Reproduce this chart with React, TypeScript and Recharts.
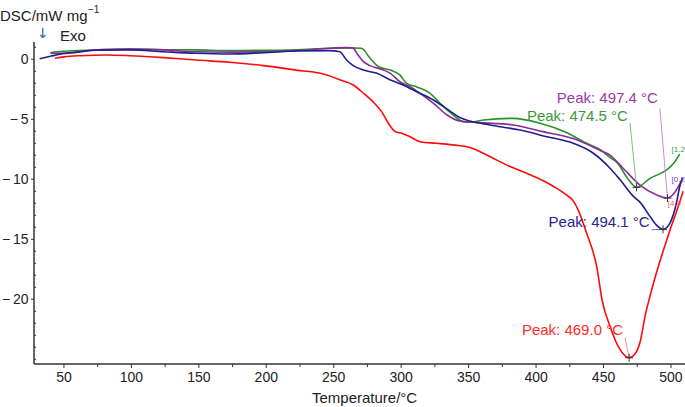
import { LineChart, Line, XAxis, YAxis, ReferenceLine, ReferenceDot } from "recharts"

// DSC curves (temperature °C -> mW/mg)
const redTemp = [43.3, 50, 62, 82, 99, 124, 148, 173, 198, 222, 240, 255, 264.5, 272, 279, 285.5, 290.5, 295.5, 300.5, 306.5, 314, 326, 340, 351, 363, 380, 395, 405, 413, 422.5, 427.5, 431, 437.5, 445, 449, 455, 461, 465, 469, 473, 477, 481, 485, 490, 495, 500, 505, 509]
const redDsc = [0.08, 0.2, 0.3, 0.36, 0.3, 0.14, -0.06, -0.25, -0.53, -0.9, -1.17, -1.72, -2.14, -2.83, -3.53, -4.36, -5.33, -6.03, -6.17, -6.45, -6.87, -7.0, -7.15, -7.35, -7.95, -8.9, -9.6, -10.1, -10.6, -11.3, -11.8, -12.5, -14.5, -17.3, -20.1, -22.3, -23.95, -24.6, -24.87, -24.6, -23.6, -21.3, -19.5, -17.5, -15.7, -14.0, -12.4, -11.0]

const blueTemp = [32, 40, 47, 60, 74, 99, 124, 148, 173, 198, 222, 247, 254.5, 259.5, 264.5, 272, 282, 292, 301.5, 311.5, 324, 336, 343.5, 351, 366, 388, 408, 427.5, 442.5, 455, 462, 472, 477, 484.5, 490, 494.1, 499, 504, 506.5, 508.5]
const blueDsc = [0.05, 0.25, 0.42, 0.6, 0.75, 0.78, 0.63, 0.5, 0.44, 0.55, 0.69, 0.72, 0.63, -0.06, -0.53, -0.9, -1.17, -1.72, -2.14, -2.7, -3.39, -4.3, -4.85, -5.15, -5.47, -5.9, -6.45, -7.0, -7.83, -9.1, -10.0, -11.4, -11.9, -13.1, -13.9, -14.17, -13.7, -12.0, -10.6, -9.9]

const purpleTemp = [40, 45, 60, 74, 99, 124, 148, 173, 198, 222, 247, 258, 264, 268, 272, 277, 287, 292, 299, 306.5, 314, 324, 334, 343.5, 358, 383, 405, 427.5, 447, 455, 464.5, 477, 489.5, 497.4, 502, 508]
const purpleDsc = [0.5, 0.5, 0.6, 0.8, 0.86, 0.78, 0.63, 0.6, 0.62, 0.7, 0.92, 0.97, 0.95, 0.36, -0.2, -0.53, -0.9, -1.17, -1.87, -2.28, -2.83, -3.67, -4.64, -5.14, -5.28, -5.47, -6.03, -6.6, -7.56, -8.0, -9.08, -10.48, -11.3, -11.56, -11.2, -10.06]

const greenTemp = [40, 45, 74, 99, 124, 148, 173, 198, 222, 247, 262, 270.5, 277, 283, 292, 299, 304, 311.5, 321, 330, 338.5, 346, 351, 361, 383, 403, 422.5, 437.5, 447, 455, 460, 467, 474.5, 484.5, 497, 502, 506.5]
const greenDsc = [0.55, 0.63, 0.78, 0.86, 0.8, 0.78, 0.72, 0.75, 0.8, 0.92, 0.95, 0.92, 0.08, -0.6, -0.9, -1.3, -2.0, -2.3, -2.8, -3.8, -4.65, -5.2, -5.25, -5.06, -4.92, -5.33, -6.1, -7.0, -7.5, -8.2, -8.6, -9.78, -10.67, -9.92, -9.2, -8.67, -7.9]

const xTicks = [50, 75, 100, 125, 150, 175, 200, 225, 250, 275, 300, 325, 350, 375, 400, 425, 450, 475, 500]
const yTicks = [1, 0, -1, -2, -3, -4, -5, -6, -7, -8, -9, -10, -11, -12, -13, -14, -15, -16, -17, -18, -19, -20, -21, -22, -23, -24, -25]
const yLabels = [0, -5, -10, -15, -20]

// peak annotations: label, peak point, where the leader line starts
const peaks = [
  { text: "Peak: 497.4 °C", color: "#9a3aa6", lead: "#c98fd0", t: 497.4, v: -11.56, tagT: 491.8, tagV: -4.1, dy: -5 },
  { text: "Peak: 474.5 °C", color: "#3a9a3a", lead: "#7cc07c", t: 474.5, v: -10.67, tagT: 469.6, tagV: -5.3, dy: -2 },
  { text: "Peak: 494.1 °C", color: "#26268f", lead: "#7070c0", t: 494.1, v: -14.17, tagT: 485.7, tagV: -14.2, dy: -3 },
  { text: "Peak: 469.0 °C", color: "#ff2a2a", lead: "#ff8a8a", t: 469.0, v: -24.87, tagT: 465.9, tagV: -23.2, dy: -3 },
]

const endTags = [
  { text: "[1.2", color: "#3a9a3a", t: 500.4, v: -7.48 },
  { text: "[0.2", color: "#6a4aa8", t: 500.4, v: -10.0 },
  { text: "[4.0", color: "#ff5a5a", t: 497.6, v: -11.97 },
]

const toPoints = (t: number[], v: number[]) => t.map((x, i) => ({ t: x, v: v[i] }))

const FONT = "'Liberation Sans', Arial, sans-serif"

function XTick(props: any) {
  const { x, y, payload } = props
  const major = payload.value % 50 === 0
  return (
    <g>
      <line x1={x} y1={y} x2={x} y2={y + (major ? 4 : 3)} stroke="#333" strokeWidth={1} />
      {major && (
        <text x={x} y={y + 8} dy="0.71em" textAnchor="middle" fontSize={14} fontFamily={FONT} fill="#222">
          {payload.value}
        </text>
      )}
    </g>
  )
}

function YTick(props: any) {
  const { x, y, payload } = props
  const major = yLabels.includes(payload.value)
  const label = payload.value < 0 ? `\u2212\u2009${Math.abs(payload.value)}` : `${payload.value}`
  return (
    <g>
      {major ? (
        <line x1={x - 3} y1={y} x2={x} y2={y} stroke="#333" strokeWidth={1} />
      ) : (
        <line x1={x} y1={y} x2={x + 2} y2={y} stroke="#333" strokeWidth={1} />
      )}
      {major && (
        <text x={x - 5.5} y={y} dy="0.36em" textAnchor="end" fontSize={14} fontFamily={FONT} fill="#222">
          {label}
        </text>
      )}
    </g>
  )
}

const Cross = (props: any) => {
  const { cx, cy } = props
  return (
    <g stroke="#333" strokeWidth={1}>
      <line x1={cx - 4} y1={cy} x2={cx + 4} y2={cy} />
      <line x1={cx} y1={cy - 4} x2={cx} y2={cy + 4} />
    </g>
  )
}

const tagShape = (text: string, color: string, dy: number) => (props: any) => (
  <text x={props.cx - 2} y={props.cy + dy} textAnchor="end" fontSize={15} fontFamily={FONT} fill={color}>
    {text}
  </text>
)

const smallShape = (text: string, color: string) => (props: any) => (
  <text x={props.cx} y={props.cy} dy="0.35em" textAnchor="start" fontSize={8} fontFamily={FONT} fill={color}>
    {text}
  </text>
)

export default function App() {
  const red = toPoints(redTemp, redDsc)
  const blue = toPoints(blueTemp, blueDsc)
  const purple = toPoints(purpleTemp, purpleDsc)
  const green = toPoints(greenTemp, greenDsc)

  const txt = { position: "absolute" as const, lineHeight: 1, fontFamily: FONT, fontSize: 15, whiteSpace: "nowrap" as const, color: "#222" }

  return (
    <div style={{ position: "absolute", left: 0, top: 0, width: 685, height: 407, background: "#fff" }}>
      <LineChart width={685} height={407} margin={{ top: 42, right: 0, left: 0, bottom: 0 }}>
        <XAxis
          type="number"
          dataKey="t"
          domain={[27.8, 510.4]}
          ticks={xTicks}
          interval={0}
          allowDataOverflow
          height={43}
          tickSize={0}
          tickMargin={0}
          tickLine={false}
          tick={<XTick />}
          axisLine={{ stroke: "#333", strokeWidth: 1.5 }}
        />
        <YAxis
          type="number"
          domain={[-25.39, 1.44]}
          ticks={yTicks}
          interval={0}
          allowDataOverflow
          width={34}
          tickSize={0}
          tickMargin={0}
          tickLine={false}
          tick={<YTick />}
          axisLine={{ stroke: "#333", strokeWidth: 1.5 }}
        />
        <Line data={green} dataKey="v" type="monotone" stroke="#25922a" strokeWidth={1.6} dot={false} isAnimationActive={false} />
        <Line data={purple} dataKey="v" type="monotone" stroke="#8e2a96" strokeWidth={1.6} dot={false} isAnimationActive={false} />
        <Line data={blue} dataKey="v" type="monotone" stroke="#1e1e8c" strokeWidth={1.6} dot={false} isAnimationActive={false} />
        <Line data={red} dataKey="v" type="monotone" stroke="#ff0a0a" strokeWidth={1.6} dot={false} isAnimationActive={false} />

        {peaks.map((p) => (
          <ReferenceLine
            key={"l" + p.text}
            segment={[{ x: p.tagT, y: p.tagV }, { x: p.t, y: p.v }]}
            stroke={p.lead}
            strokeWidth={1}
          />
        ))}
        {peaks.map((p) => (
          <ReferenceDot key={"c" + p.text} x={p.t} y={p.v} r={4} shape={Cross} />
        ))}
        {peaks.map((p) => (
          <ReferenceDot key={"t" + p.text} x={p.tagT} y={p.tagV} r={1} shape={tagShape(p.text, p.color, p.dy)} />
        ))}
        {endTags.map((e) => (
          <ReferenceDot key={e.text} x={e.t} y={e.v} r={1} shape={smallShape(e.text, e.color)} />
        ))}
      </LineChart>

      <div style={{ ...txt, left: 0, top: 8 }}>DSC/mW mg</div>
      <div style={{ ...txt, left: 88, top: 4.5, fontSize: 10 }}>{"\u22121"}</div>
      <div style={{ ...txt, left: 37, top: 26, fontSize: 14, fontFamily: "'DejaVu Sans', sans-serif", color: "#1f5fb8" }}>{"\u2193"}</div>
      <div style={{ ...txt, left: 60, top: 28 }}>Exo</div>
      <div style={{ ...txt, left: 312, top: 390 }}>Temperature/°C</div>
    </div>
  )
}
